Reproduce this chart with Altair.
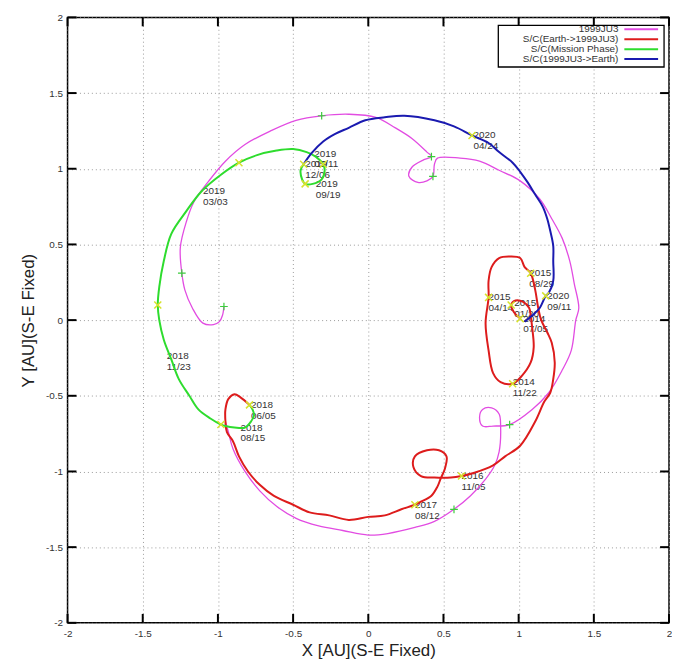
import altair as alt
import pandas as pd

W, H = 606, 610
FONT = "Liberation Sans"

TICKS = [-2, -1.5, -1, -0.5, 0, 0.5, 1, 1.5, 2]

series_names = ["1999JU3", "S/C(Earth->1999JU3)", "S/C(Mission Phase)", "S/C(1999JU3->Earth)"]
series_colors = ["#e24ce2", "#dd1c1c", "#2edc2e", "#1a1ab0"]

# 1999JU3 (asteroid) path
ju3_x = [-0.96, -0.97, -0.99, -1.03, -1.10, -1.17, -1.22, -1.24, -1.25, -1.21, -1.16, -1.06,
         -0.95, -0.82, -0.65, -0.48, -0.31, -0.13, 0.05, 0.18, 0.29, 0.39, 0.42, 0.37,
         0.29, 0.27, 0.33, 0.39, 0.43, 0.44, 0.46, 0.61, 0.74, 0.87, 1.01, 1.14,
         1.22, 1.29, 1.34, 1.37, 1.40, 1.38, 1.35, 1.29, 1.20, 1.09, 0.94, 0.83,
         0.76, 0.74, 0.76, 0.82, 0.87, 0.88, 0.87, 0.84, 0.78, 0.68, 0.57, 0.44,
         0.31, 0.13, 0.00, -0.17, -0.33, -0.48, -0.61, -0.72, -0.82, -0.90, -0.93, -0.95]
ju3_y = [0.09, 0.03, -0.01, -0.03, -0.02, 0.08, 0.20, 0.31, 0.48, 0.65, 0.78, 0.92,
         1.05, 1.16, 1.25, 1.32, 1.35, 1.36, 1.34, 1.27, 1.20, 1.11, 1.08, 1.06,
         1.01, 0.95, 0.91, 0.92, 0.95, 1.03, 1.07, 1.07, 1.05, 0.99, 0.92, 0.80,
         0.67, 0.54, 0.39, 0.24, 0.08, 0.00, -0.20, -0.33, -0.48, -0.59, -0.69, -0.70,
         -0.70, -0.64, -0.59, -0.58, -0.62, -0.70, -0.87, -0.96, -1.05, -1.16, -1.25, -1.33,
         -1.37, -1.41, -1.42, -1.39, -1.36, -1.31, -1.23, -1.13, -1.00, -0.85, -0.74, -0.67]

# S/C Earth -> 1999JU3
out_x = [1.01, 0.97, 0.95, 0.98, 1.03, 1.07, 1.08, 1.09, 1.10, 1.08, 1.02, 0.96,
         0.88, 0.83, 0.80, 0.78, 0.80, 0.80, 0.82, 0.87, 0.94, 1.01, 1.04, 1.08,
         1.11, 1.13, 1.15, 1.19, 1.22, 1.24, 1.23, 1.21, 1.17, 1.11, 1.01, 0.91,
         0.83, 0.70, 0.62, 0.55, 0.44, 0.35, 0.30, 0.31, 0.39, 0.47, 0.52, 0.51,
         0.48, 0.46, 0.42, 0.35, 0.31, 0.22, 0.11, 0.00, -0.13, -0.26, -0.39, -0.50,
         -0.63, -0.72, -0.80, -0.86, -0.90, -0.94, -0.95, -0.95, -0.93, -0.89, -0.85, -0.79]
out_y = [0.01, 0.05, 0.10, 0.13, 0.12, 0.08, 0.03, -0.05, -0.18, -0.28, -0.37, -0.42,
         -0.41, -0.35, -0.20, -0.02, 0.15, 0.26, 0.35, 0.41, 0.42, 0.41, 0.35, 0.31,
         0.20, 0.08, 0.00, -0.08, -0.15, -0.28, -0.39, -0.48, -0.54, -0.67, -0.83, -0.90,
         -0.96, -1.01, -1.03, -1.04, -1.04, -1.03, -0.97, -0.90, -0.86, -0.86, -0.90, -0.98,
         -1.05, -1.10, -1.16, -1.20, -1.22, -1.25, -1.29, -1.30, -1.32, -1.29, -1.27, -1.22,
         -1.16, -1.09, -1.00, -0.90, -0.80, -0.74, -0.67, -0.59, -0.52, -0.49, -0.51, -0.56]

# S/C mission phase
mis_x = [-0.79, -0.77, -0.76, -0.78, -0.82, -0.89, -0.95, -0.98, -1.05, -1.13, -1.19, -1.26,
         -1.31, -1.36, -1.39, -1.40, -1.39, -1.36, -1.31, -1.21, -1.11, -0.98, -0.86, -0.74,
         -0.61, -0.50, -0.41, -0.35, -0.30, -0.29, -0.31, -0.37, -0.42, -0.44, -0.45, -0.43]
mis_y = [-0.56, -0.59, -0.63, -0.67, -0.71, -0.71, -0.70, -0.69, -0.65, -0.59, -0.50, -0.39,
         -0.26, -0.13, 0.00, 0.10, 0.22, 0.39, 0.57, 0.72, 0.85, 0.96, 1.04, 1.09,
         1.12, 1.13, 1.11, 1.08, 1.03, 0.99, 0.93, 0.90, 0.90, 0.93, 0.99, 1.03]

# S/C 1999JU3 -> Earth
ret_x = [-0.43, -0.38, -0.30, -0.22, -0.13, -0.02, 0.11, 0.24, 0.44, 0.57, 0.69, 0.80,
         0.87, 0.96, 1.01, 1.06, 1.11, 1.16, 1.19, 1.21, 1.23, 1.23, 1.23, 1.20,
         1.18, 1.14, 1.09, 1.04]
ret_y = [1.03, 1.10, 1.18, 1.23, 1.27, 1.32, 1.34, 1.35, 1.32, 1.28, 1.22, 1.17,
         1.11, 1.04, 0.98, 0.91, 0.83, 0.75, 0.67, 0.59, 0.49, 0.39, 0.26, 0.18,
         0.16, 0.08, 0.03, -0.01]

# event markers (yellow x)
evt_x = [1.01, 0.96, 0.95, 0.80, 1.08, 0.62, 0.31, -0.79, -0.98, -1.40, -0.86, -0.30, -0.42, -0.43, 0.69, 1.18]
evt_y = [0.01, -0.42, 0.10, 0.15, 0.31, -1.03, -1.22, -0.56, -0.69, 0.10, 1.04, 1.03, 0.90, 1.03, 1.22, 0.16]

# asteroid markers (green +)
ast_x = [-0.96, -1.24, -0.31, 0.42, 0.43, 0.94, 0.57]
ast_y = [0.09, 0.31, 1.35, 1.08, 0.95, -0.69, -1.25]

# date labels
lab_text = ["2014\n07/05", "2014\n11/22", "2015\n01/20", "2015\n04/14", "2015\n08/29",
            "2016\n11/05", "2017\n08/12", "2018\n06/05", "2018\n08/15", "2018\n11/23",
            "2019\n03/03", "2019\n05/11", "2019\n12/06", "2019\n09/19", "2020\n04/24", "2020\n09/11"]
lab_x = [1.03, 0.96, 0.97, 0.80, 1.07, 0.62, 0.31, -0.78, -0.85, -1.34, -1.10, -0.36, -0.42, -0.35, 0.70, 1.19]
lab_y = [0.01, -0.41, 0.11, 0.15, 0.31, -1.03, -1.22, -0.56, -0.71, -0.24, 0.85, 1.10, 1.03, 0.90, 1.22, 0.16]

xscale = alt.Scale(domain=[-2, 2], nice=False, zero=False)
yscale = alt.Scale(domain=[-2, 2], nice=False, zero=False)
x_axis = alt.Axis(values=TICKS, grid=True, ticks=False, domain=False, labelFlush=False,
                  labelExpr="'' + datum.value", title="X [AU](S-E Fixed)",
                  labelPadding=6, titlePadding=4)
y_axis = alt.Axis(values=TICKS, grid=True, ticks=False, domain=False, labelFlush=False,
                  labelExpr="'' + datum.value", title="Y [AU](S-E Fixed)",
                  labelPadding=5, titlePadding=8)


def X(f):
    return alt.X(f, type="quantitative", scale=xscale, axis=x_axis)


def Y(f):
    return alt.Y(f, type="quantitative", scale=yscale, axis=y_axis)


layers = []

# date labels (behind the curves)
lab_df = pd.DataFrame({"x": lab_x, "y": lab_y, "text": lab_text})
layers.append(
    alt.Chart(lab_df).mark_text(align="left", baseline="top", dy=-5, fontSize=10, lineHeight=11,
                                lineBreak="\n", font=FONT, color="#333333")
    .encode(x=X("x"), y=Y("y"), text="text:N")
)

paths = [(ju3_x, ju3_y, 1.3), (out_x, out_y, 2.0), (mis_x, mis_y, 2.0), (ret_x, ret_y, 2.0)]
for (px, py, sw), col in zip(paths, series_colors):
    df = pd.DataFrame({"x": px, "y": py})
    df["i"] = range(len(df))
    layers.append(
        alt.Chart(df).mark_line(color=col, strokeWidth=sw, strokeJoin="round",
                                interpolate="catmull-rom")
        .encode(x=X("x"), y=Y("y"), order=alt.Order("i:Q"))
    )

XSHAPE = "M-1,-1L1,1M-1,1L1,-1"
PSHAPE = "M-1,0L1,0M0,-1L0,1"
ast_df = pd.DataFrame({"x": ast_x, "y": ast_y})
layers.append(
    alt.Chart(ast_df).mark_point(shape=PSHAPE, filled=False, size=60, strokeWidth=1.2,
                                 color="#3ccc3c", opacity=1)
    .encode(x=X("x"), y=Y("y"))
)
evt_df = pd.DataFrame({"x": evt_x, "y": evt_y})
layers.append(
    alt.Chart(evt_df).mark_point(shape=XSHAPE, filled=False, size=50, strokeWidth=1.5,
                                 color="#d6e22c", opacity=1)
    .encode(x=X("x"), y=Y("y"))
)

# inward tick marks on all four sides (separate columns so they never merge with path data)
tick_df = pd.DataFrame({"tx": TICKS, "ty": TICKS})
TL = 9
tk = alt.Chart(tick_df).mark_rule(color="#000000", strokeWidth=2, opacity=1)
layers += [
    tk.encode(x=alt.X("tx:Q", scale=xscale, axis=x_axis), y=alt.value(H), y2=alt.value(H - TL)),
    tk.encode(x=alt.X("tx:Q", scale=xscale, axis=x_axis), y=alt.value(0), y2=alt.value(TL)),
    tk.encode(y=alt.Y("ty:Q", scale=yscale, axis=y_axis), x=alt.value(0), x2=alt.value(TL)),
    tk.encode(y=alt.Y("ty:Q", scale=yscale, axis=y_axis), x=alt.value(W), x2=alt.value(W - TL)),
]

# legend box
layers.append(
    alt.Chart(pd.DataFrame({"a": [0]})).mark_rect(fill="white", stroke="black", strokeWidth=1.3)
    .encode(x=alt.value(W - 172), x2=alt.value(W - 5), y=alt.value(8), y2=alt.value(50))
)
for k, (nm, col) in enumerate(zip(series_names, series_colors)):
    ry = 12 + 10 * k
    ldf = pd.DataFrame({"name": [nm]})
    layers.append(
        alt.Chart(ldf).mark_text(align="right", baseline="middle", fontSize=10, font=FONT,
                                 color="#333333")
        .encode(x=alt.value(W - 51), y=alt.value(ry), text="name:N")
    )
    layers.append(
        alt.Chart(ldf).mark_rule(color=col, strokeWidth=2)
        .encode(x=alt.value(W - 45), x2=alt.value(W - 11), y=alt.value(ry))
    )

chart = (
    alt.layer(*layers)
    .properties(width=W, height=H, padding={"left": 11, "top": 2, "right": 0, "bottom": 0})
    .configure(font=FONT)
    .configure_view(stroke="black", strokeWidth=1.5)
    .configure_axis(gridColor="#9a9a9a", gridDash=[1, 3], gridWidth=1, gridOpacity=1,
                    labelFont=FONT, labelFontSize=10, labelColor="#333333",
                    titleFont=FONT, titleFontSize=17, titleFontWeight="normal", titleColor="#222222")
)

chart.save("out.html", embed_options={"renderer": "svg", "actions": False})
